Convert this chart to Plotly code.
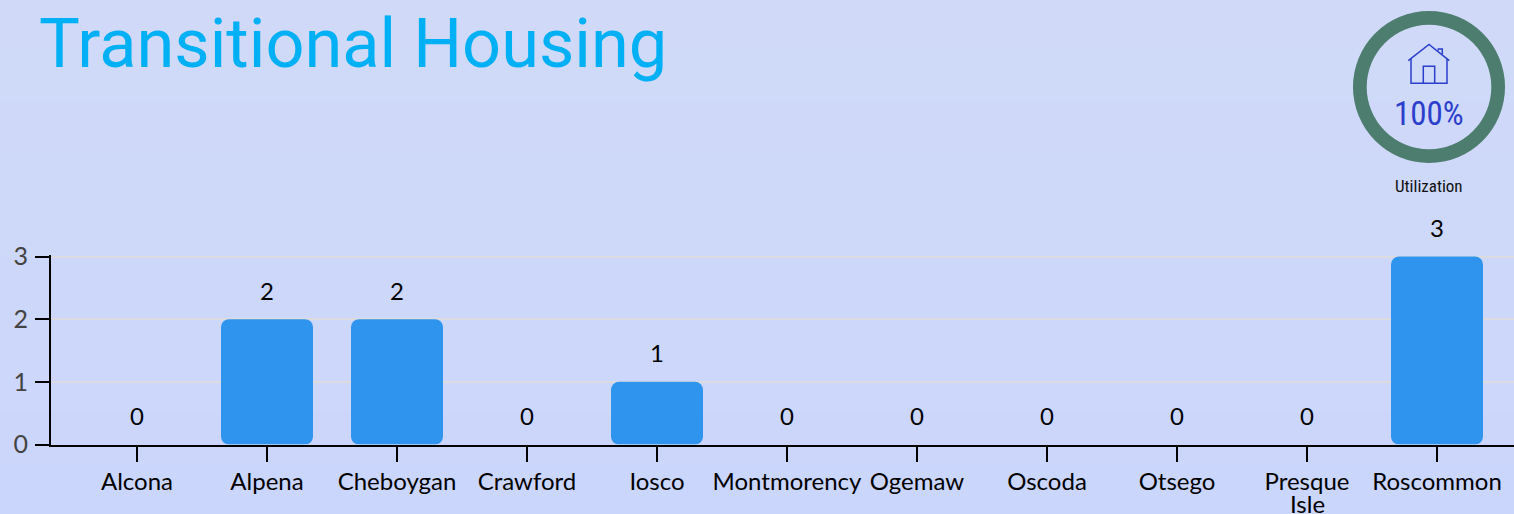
import plotly.graph_objects as go

W, H = 1514, 514
categories = ["Alcona", "Alpena", "Cheboygan", "Crawford", "Iosco", "Montmorency",
              "Ogemaw", "Oscoda", "Otsego", "Presque", "Roscommon"]
second_line = {9: "Isle"}
values = [0, 2, 2, 0, 1, 0, 0, 0, 0, 0, 3]
y_ticks = [0, 1, 2, 3]
utilization = [100]
title_text = "Transitional Housing"

BAR = "#2F94EE"
px = lambda x: x / W
py = lambda y: 1 - y / H

fig = go.Figure()
# An explicit base makes plotly round all four corners of each bar
fig.add_trace(go.Bar(x=list(range(len(categories))), y=values, base=[0] * len(values),
                     width=0.7077, marker=dict(color=BAR, line_width=0), showlegend=False,
                     hoverinfo="skip"))
fig.add_trace(go.Pie(values=utilization, hole=0.82, sort=False, textinfo="none",
                     marker=dict(colors=["#4C7D6E"], line_width=0), showlegend=False,
                     hoverinfo="skip",
                     domain=dict(x=[px(1353), px(1505)], y=[py(163), py(11)])))

annotations = [dict(x=i, y=v, xref="x", yref="y", text=str(v), showarrow=False, yshift=29,
                    xanchor="center", yanchor="middle",
                    font=dict(family="Lato", size=24, color="#000"))
               for i, v in enumerate(values)]
annotations += [dict(x=i, y=py(503.5), xref="x", yref="paper", text=t, showarrow=False,
                     xanchor="center", yanchor="middle",
                     font=dict(family="Lato", size=24, color="#000"))
                for i, t in second_line.items()]
annotations += [
    dict(x=px(1429), y=py(113), xref="paper", yref="paper", text=f"{utilization[0]}%", showarrow=False,
         xanchor="center", yanchor="middle",
         font=dict(family="Roboto Condensed, Roboto", size=33, color="#2B3FCC")),
    dict(x=px(1429), y=py(186), xref="paper", yref="paper", text="Utilization", showarrow=False,
         xanchor="center", yanchor="middle",
         font=dict(family="Roboto Condensed, Roboto", size=17, color="#111")),
]

# background gradient
shapes = []
N = 20
top, bot = (208, 217, 247), (203, 214, 252)
for i in range(N):
    c = [round(a + (b - a) * i / (N - 1)) for a, b in zip(top, bot)]
    shapes.append(dict(type="rect", xref="paper", yref="paper", x0=0, x1=1,
                       y0=1 - i / N, y1=1 - (i + 1) / N, layer="below",
                       fillcolor=f"rgb({c[0]},{c[1]},{c[2]})", line_width=0))

def P(*pts):
    return "M" + " L".join(f"{px(x):.5f},{py(y):.5f}" for x, y in pts)

ICON = "#2B3FCC"
for path in [P((1408.3, 60.7), (1429, 44.5), (1449.3, 60.7)),
             P((1411, 59), (1411, 83.3), (1447, 83.3), (1447, 59)),
             P((1423.3, 83.3), (1423.3, 66.3), (1434.7, 66.3), (1434.7, 83.3)),
             P((1438.3, 50.5), (1438.3, 49), (1442.3, 49), (1442.3, 54))]:
    shapes.append(dict(type="path", path=path, xref="paper", yref="paper",
                       line=dict(color=ICON, width=1.5)))

fig.update_layout(
    width=W, height=H, margin=dict(l=0, r=0, t=0, b=0),
    paper_bgcolor="#CED8F9", plot_bgcolor="rgba(0,0,0,0)",
    barmode="overlay", barcornerradius=8, showlegend=False,
    title=dict(text=title_text, x=px(39), xref="container", xanchor="left",
               y=py(43.5), yref="container", yanchor="middle",
               font=dict(family="Roboto", size=68.5, color="#00B0F4")),
    annotations=annotations, shapes=shapes,
    xaxis=dict(domain=[px(51), 1], range=[-86 / 130, (W - 137) / 130],
               tickmode="array", tickvals=list(range(len(categories))), ticktext=categories,
               ticks="outside", ticklen=15, tickwidth=2, tickcolor="#000",
               showline=True, linecolor="#000", linewidth=2, showgrid=False, zeroline=False,
               tickfont=dict(family="Lato", size=24, color="#000"), automargin=False),
    yaxis=dict(domain=[py(444.5), py(254.62)], range=[0, 3.03], tickvals=y_ticks,
               ticks="outside", ticklen=14, tickwidth=2, tickcolor="#000",
               ticklabelstandoff=2,
               showline=True, linecolor="#000", linewidth=2,
               showgrid=True, gridcolor="#DCDCE0", gridwidth=2, zeroline=False,
               tickfont=dict(family="Lato", size=25, color="#444"), automargin=False),
)
fig.write_html("out.html", config=dict(displayModeBar=False),
               post_script="document.body.style.margin='0';document.body.style.overflow='hidden';")
